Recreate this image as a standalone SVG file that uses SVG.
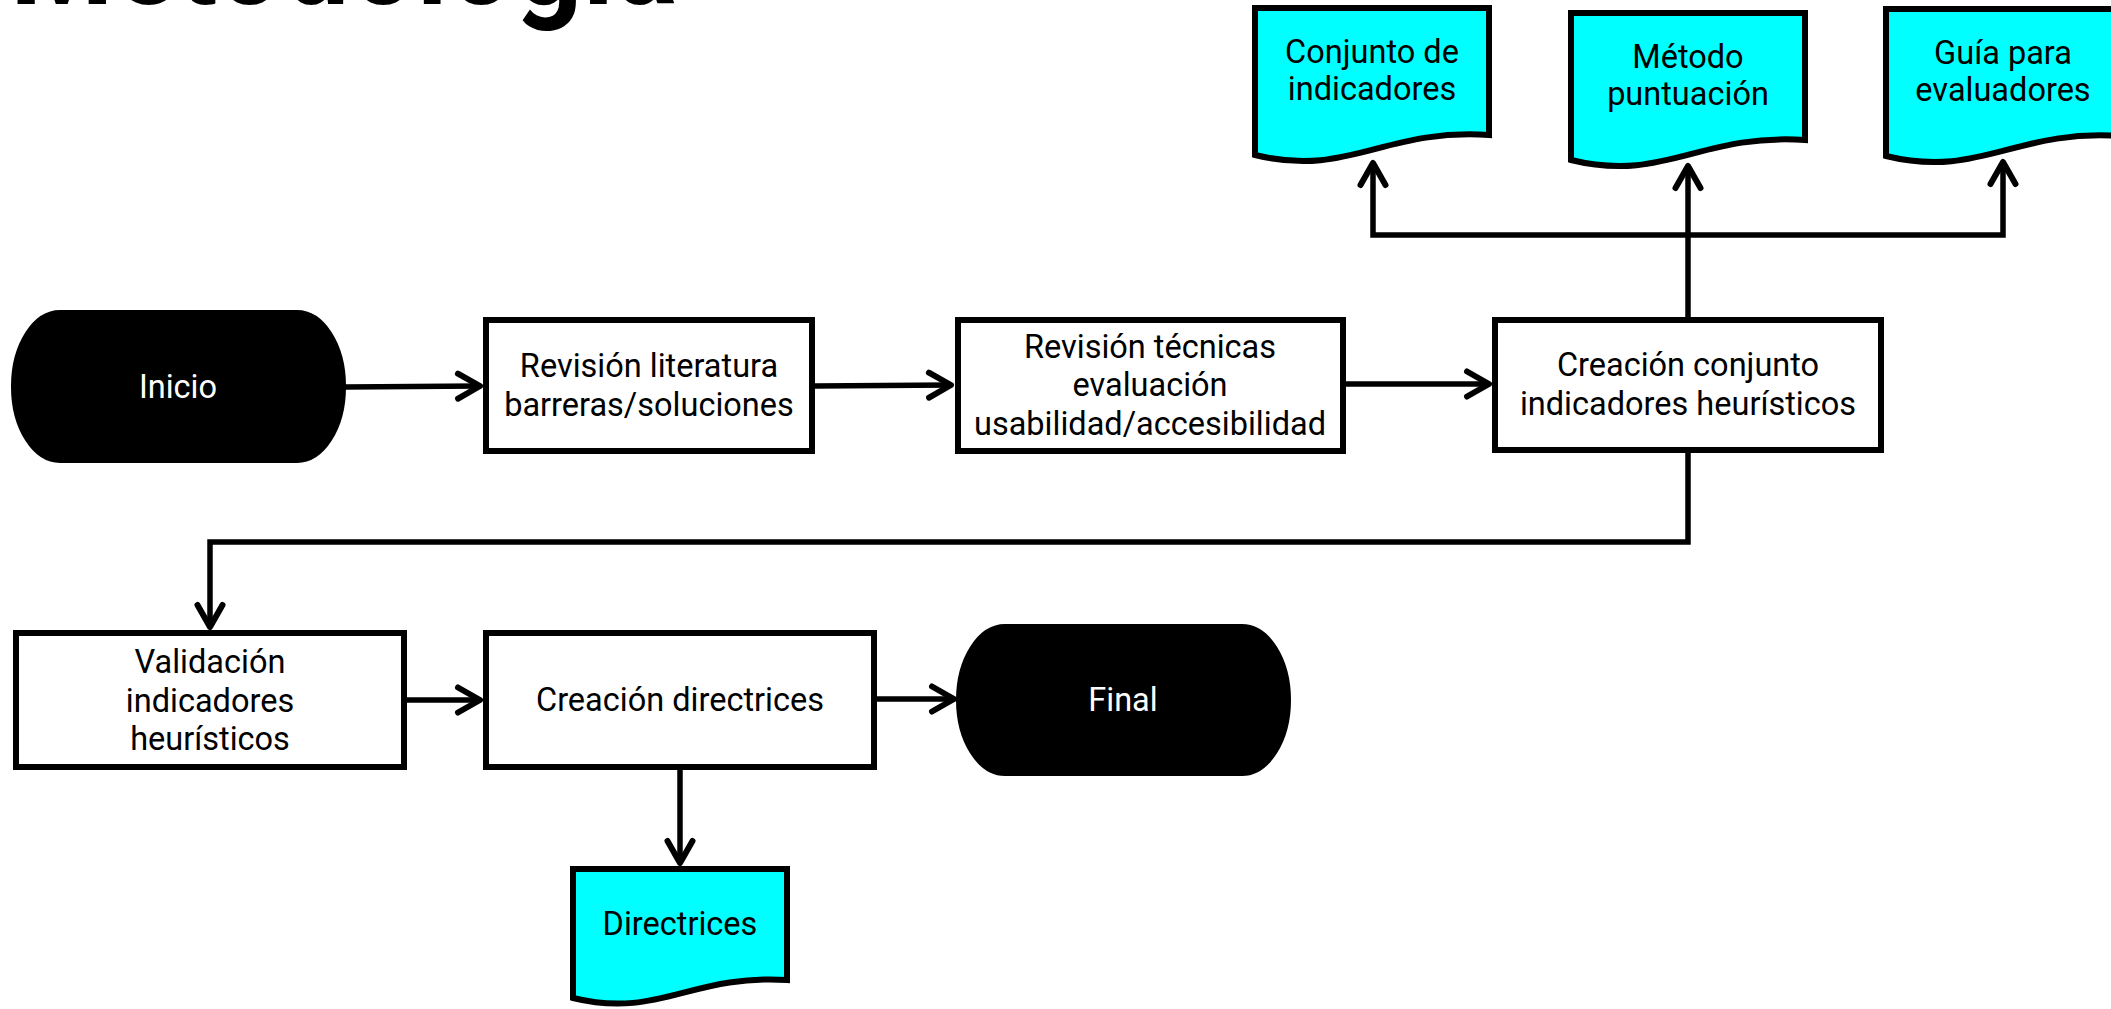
<svg xmlns="http://www.w3.org/2000/svg" width="2111" height="1009" viewBox="0 0 2111 1009">
<style>
.box{fill:#ffffff;stroke:#000000;stroke-width:6}
.term{fill:#000000;stroke:#000000;stroke-width:2}
.doc{fill:#00ffff;stroke:#000000;stroke-width:6;stroke-linejoin:miter}
.t{font-family:Roboto,"Liberation Sans",sans-serif;font-size:32.5px;font-weight:400;fill:#000000;text-anchor:middle}
.w{fill:#ffffff}
.c{fill:none;stroke:#000000;stroke-width:5.5;marker-end:url(#arr)}
.title{font-family:Roboto,"Liberation Sans",sans-serif;font-size:128px;font-weight:700;fill:#000000}
</style>
<defs>
<marker id="arr" markerUnits="userSpaceOnUse" markerWidth="40" markerHeight="40" refX="0" refY="0" viewBox="-30 -20 40 40" orient="auto" overflow="visible">
<path d="M-22,-12.5 L0,0 L-22,12.5" fill="none" stroke="#000000" stroke-width="6" stroke-linecap="round" stroke-linejoin="round"/>
</marker>
</defs>
<text class="title" x="10" y="4" textLength="668" lengthAdjust="spacingAndGlyphs">Metodología</text>

<g id="connectors">
<path class="c" d="M345,387 L480,386"/>
<path class="c" d="M815,386 L951,385"/>
<path class="c" d="M1346,384 L1489,384"/>
<path class="c" d="M1688,453 V542 H210 V627"/>
<path class="c" d="M1688,317 V166"/>
<path class="c" d="M1688,235 H1373 V163"/>
<path class="c" d="M1688,235 H2003 V162"/>
<path class="c" d="M407,700 L480,700"/>
<path class="c" d="M877,699 L954,699"/>
<path class="c" d="M680,770 V863"/>
</g>

<g id="inicio">
<rect class="term" x="12" y="311" width="333" height="151" rx="48" ry="75"/>
<text class="t w" x="178" y="397.5">Inicio</text>
</g>
<g id="revision-literatura">
<rect class="box" x="486" y="320" width="326" height="131"/>
<text class="t" x="649" y="377">Revisión literatura</text>
<text class="t" x="649" y="415.5">barreras/soluciones</text>
</g>
<g id="revision-tecnicas">
<rect class="box" x="958" y="320" width="385" height="131"/>
<text class="t" x="1150" y="357.5">Revisión técnicas</text>
<text class="t" x="1150" y="396">evaluación</text>
<text class="t" x="1150" y="434.5">usabilidad/accesibilidad</text>
</g>
<g id="creacion-conjunto">
<rect class="box" x="1495" y="320" width="386" height="130"/>
<text class="t" x="1688" y="376">Creación conjunto</text>
<text class="t" x="1688" y="414.5">indicadores heurísticos</text>
</g>
<g id="conjunto-indicadores">
<path class="doc" d="M1255,8 H1489 V135 C1383.8,128 1348.5,178 1255,155 Z"/>
<text class="t" x="1372" y="63">Conjunto de</text>
<text class="t" x="1372" y="100">indicadores</text>
</g>
<g id="metodo-puntuacion">
<path class="doc" d="M1571,13 H1805 V140 C1699.8,133 1664.5,183 1571,160 Z"/>
<text class="t" x="1688" y="68">Método</text>
<text class="t" x="1688" y="105">puntuación</text>
</g>
<g id="guia-evaluadores">
<path class="doc" d="M1886,9 H2120 V136 C2014.8,129 1979.5,179 1886,156 Z"/>
<text class="t" x="2003" y="64">Guía para</text>
<text class="t" x="2003" y="101">evaluadores</text>
</g>
<g id="validacion">
<rect class="box" x="16" y="633" width="388" height="134"/>
<text class="t" x="210" y="673">Validación</text>
<text class="t" x="210" y="711.5">indicadores</text>
<text class="t" x="210" y="750">heurísticos</text>
</g>
<g id="creacion-directrices">
<rect class="box" x="486" y="633" width="388" height="134"/>
<text class="t" x="680" y="711">Creación directrices</text>
</g>
<g id="final">
<rect class="term" x="957" y="625" width="333" height="150" rx="48" ry="75"/>
<text class="t w" x="1123" y="711">Final</text>
</g>
<g id="directrices">
<path class="doc" d="M573,869 H787 V980 C690.8,974 658.5,1019 573,998 Z"/>
<text class="t" x="680" y="935">Directrices</text>
</g>
</svg>
